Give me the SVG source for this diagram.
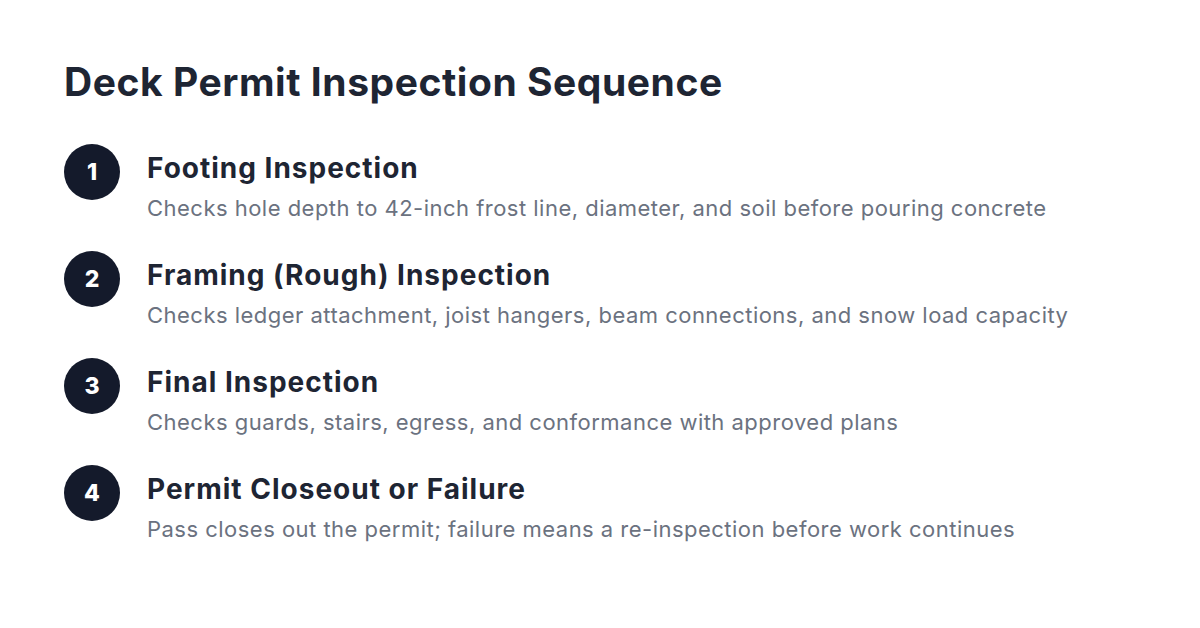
<svg xmlns="http://www.w3.org/2000/svg" width="1200" height="628" viewBox="0 0 1200 628">
<style>
.title{font-family:Inter,"Noto Sans",sans-serif;font-weight:700;font-size:39px;letter-spacing:0.55px;fill:#1e2533}
.num{font-family:Inter,"Noto Sans",sans-serif;font-weight:800;font-size:23px;fill:#ffffff}
.head{font-family:Inter,"Noto Sans",sans-serif;font-weight:700;font-size:28px;letter-spacing:1px;fill:#1e2533}
.desc{font-family:Inter,"Noto Sans",sans-serif;font-weight:400;font-size:22px;letter-spacing:0.48px;fill:#6b7280}
.dot{fill:#141a2b}
</style>
<rect width="1200" height="628" fill="#ffffff"/>
<text class="title" x="64" y="96">Deck Permit Inspection Sequence</text>
<g id="step1">
<circle class="dot" cx="92" cy="172" r="28"/>
<text class="num" x="92" y="180" text-anchor="middle">1</text>
<text class="head" x="147" y="178">Footing Inspection</text>
<text class="desc" x="147" y="216">Checks hole depth to 42-inch frost line, diameter, and soil before pouring concrete</text>
</g>
<g id="step2">
<circle class="dot" cx="92" cy="279" r="28"/>
<text class="num" x="92" y="287" text-anchor="middle">2</text>
<text class="head" x="147" y="285">Framing (Rough) Inspection</text>
<text class="desc" x="147" y="323">Checks ledger attachment, joist hangers, beam connections, and snow load capacity</text>
</g>
<g id="step3">
<circle class="dot" cx="92" cy="386" r="28"/>
<text class="num" x="92" y="394" text-anchor="middle">3</text>
<text class="head" x="147" y="392">Final Inspection</text>
<text class="desc" x="147" y="430">Checks guards, stairs, egress, and conformance with approved plans</text>
</g>
<g id="step4">
<circle class="dot" cx="92" cy="493" r="28"/>
<text class="num" x="92" y="501" text-anchor="middle">4</text>
<text class="head" x="147" y="499">Permit Closeout or Failure</text>
<text class="desc" x="147" y="537">Pass closes out the permit; failure means a re-inspection before work continues</text>
</g>
<g id="connectors"/>
</svg>
